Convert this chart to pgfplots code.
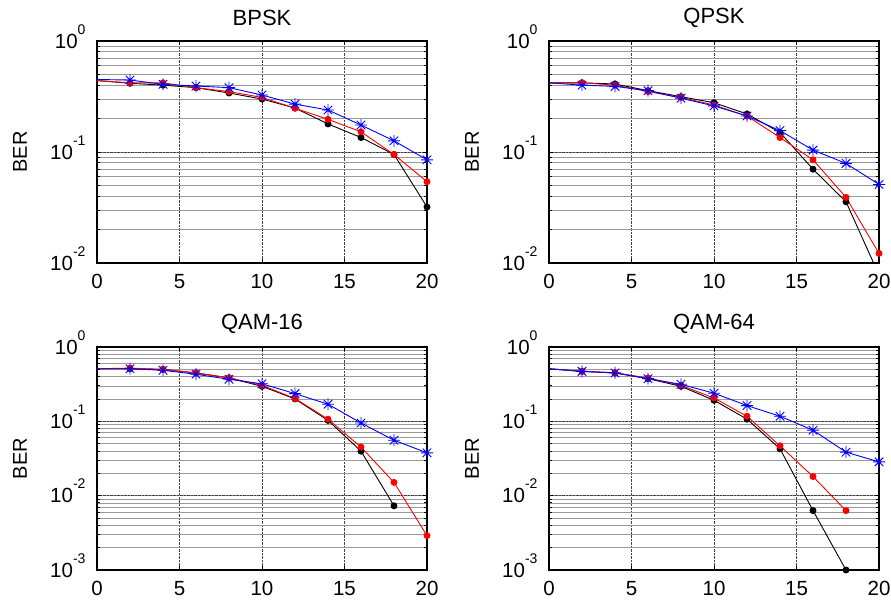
\documentclass[border=0pt]{standalone}
\usepackage{fontspec}
\setmainfont{Liberation Sans}
\usepackage{pgfplots}
\pgfplotsset{compat=1.18}

% MATLAB-like '*' marker: plus and cross together
\pgfdeclareplotmark{mstar}{%
  \pgfpathmoveto{\pgfqpoint{-\pgfplotmarksize}{0pt}}%
  \pgfpathlineto{\pgfqpoint{\pgfplotmarksize}{0pt}}%
  \pgfpathmoveto{\pgfqpoint{0pt}{-\pgfplotmarksize}}%
  \pgfpathlineto{\pgfqpoint{0pt}{\pgfplotmarksize}}%
  \pgfpathmoveto{\pgfqpoint{-0.707\pgfplotmarksize}{-0.707\pgfplotmarksize}}%
  \pgfpathlineto{\pgfqpoint{0.707\pgfplotmarksize}{0.707\pgfplotmarksize}}%
  \pgfpathmoveto{\pgfqpoint{-0.707\pgfplotmarksize}{0.707\pgfplotmarksize}}%
  \pgfpathlineto{\pgfqpoint{0.707\pgfplotmarksize}{-0.707\pgfplotmarksize}}%
  \pgfusepathqstroke}

% 10^n tick label, superscript kept out of the box height
\newcommand{\tp}[1]{10\smash{\raisebox{0.68em}{\fontsize{14}{14}\selectfont #1}}}

\pgfplotsset{
  berplot/.style={
    scale only axis, width=330pt,
    xmin=0, xmax=20, xtick={0,5,10,15,20},
    xticklabels={0,5,10,15,20},
    tick align=inside, tick pos=both,
    major tick length=4pt, minor tick length=3pt,
    axis line style={line width=1.2pt},
    every tick/.style={black, line width=0.8pt},
    ticklabel style={font=\fontsize{20.5}{20.5}\selectfont},
    xticklabel style={yshift=-8pt},
    yticklabel style={xshift=-8pt},
    xmajorgrids, ymajorgrids, yminorgrids,
    major grid style={black!75, densely dotted, line width=0.7pt},
    minor grid style={black!40, line width=0.7pt},
    title style={font=\fontsize{22}{22}\selectfont, at={(axis description cs:0.5,1)}, anchor=center, yshift=17pt},
    ylabel=BER,
    every axis y label/.style={at={(axis description cs:-0.233,0.5)}, rotate=90, anchor=center, font=\fontsize{20}{20}\selectfont},
  },
  kline/.style={black, line width=0.9pt, mark=*, mark size=3pt, mark indices={2,3,4,5,6,7,8,9,10,11}},
  rline/.style={red, line width=0.9pt, mark=*, mark size=3pt, mark indices={2,3,4,5,6,7,8,9,10,11}},
  bline/.style={blue, line width=0.9pt, mark=mstar, mark size=6pt, mark options={line width=0.9pt}, mark indices={2,3,4,5,6,7,8,9,10,11}},
}

\begin{document}
\begin{tikzpicture}
\useasboundingbox (0,0) rectangle (891pt,602pt);

% BPSK
\begin{semilogyaxis}[berplot, at={(97pt,339pt)}, anchor=south west, height=222pt,
  ymin=1e-2, ymax=1, ytick={1e-2,1e-1,1}, yticklabels={\tp{-2},\tp{-1},\tp{0}},
  title={BPSK}]
\addplot[kline] coordinates {(0,0.44) (2,0.416) (4,0.40) (6,0.38) (8,0.34) (10,0.30) (12,0.249) (14,0.179) (16,0.135) (18,0.095) (20,0.032)};
\addplot[rline] coordinates {(0,0.44) (2,0.42) (4,0.42) (6,0.38) (8,0.35) (10,0.31) (12,0.248) (14,0.197) (16,0.152) (18,0.095) (20,0.054)};
\addplot[bline] coordinates {(0,0.45) (2,0.445) (4,0.407) (6,0.393) (8,0.38) (10,0.326) (12,0.27) (14,0.239) (16,0.175) (18,0.126) (20,0.085)};
\end{semilogyaxis}

% QPSK
\begin{semilogyaxis}[berplot, at={(549pt,339pt)}, anchor=south west, height=222pt,
  ymin=1e-2, ymax=1, ytick={1e-2,1e-1,1}, yticklabels={\tp{-2},\tp{-1},\tp{0}},
  title={QPSK}]
\addplot[kline, mark indices={2,3,4,5,6,7,8,9,10}] coordinates {(0,0.42) (2,0.42) (4,0.41) (6,0.357) (8,0.315) (10,0.278) (12,0.22) (14,0.150) (16,0.070) (18,0.0356) (20,0.0078)};
\addplot[rline] coordinates {(0,0.42) (2,0.42) (4,0.40) (6,0.35) (8,0.31) (10,0.265) (12,0.211) (14,0.135) (16,0.085) (18,0.039) (20,0.0122)};
\addplot[bline] coordinates {(0,0.42) (2,0.40) (4,0.39) (6,0.357) (8,0.305) (10,0.26) (12,0.211) (14,0.156) (16,0.104) (18,0.079) (20,0.051)};
\end{semilogyaxis}

% QAM-16
\begin{semilogyaxis}[berplot, at={(97pt,32pt)}, anchor=south west, height=223pt,
  ymin=1e-3, ymax=1, ytick={1e-3,1e-2,1e-1,1}, yticklabels={\tp{-3},\tp{-2},\tp{-1},\tp{0}},
  title={QAM-16}]
\addplot[kline] coordinates {(0,0.51) (2,0.51) (4,0.50) (6,0.448) (8,0.383) (10,0.296) (12,0.20) (14,0.103) (16,0.0397) (18,0.0073)};
\addplot[rline] coordinates {(0,0.51) (2,0.52) (4,0.50) (6,0.448) (8,0.386) (10,0.305) (12,0.203) (14,0.107) (16,0.045) (18,0.0151) (20,0.0029)};
\addplot[bline] coordinates {(0,0.51) (2,0.51) (4,0.486) (6,0.43) (8,0.368) (10,0.32) (12,0.236) (14,0.170) (16,0.095) (18,0.0557) (20,0.0377)};
\end{semilogyaxis}

% QAM-64
\begin{semilogyaxis}[berplot, at={(549pt,32pt)}, anchor=south west, height=223pt,
  ymin=1e-3, ymax=1, ytick={1e-3,1e-2,1e-1,1}, yticklabels={\tp{-3},\tp{-2},\tp{-1},\tp{0}},
  title={QAM-64}]
\addplot[kline] coordinates {(0,0.51) (2,0.47) (4,0.448) (6,0.375) (8,0.296) (10,0.192) (12,0.107) (14,0.0427) (16,0.0063) (18,0.001)};
\addplot[rline] coordinates {(0,0.51) (2,0.47) (4,0.45) (6,0.383) (8,0.305) (10,0.206) (12,0.117) (14,0.0468) (16,0.0181) (18,0.0063)};
\addplot[bline] coordinates {(0,0.51) (2,0.47) (4,0.448) (6,0.375) (8,0.315) (10,0.239) (12,0.163) (14,0.117) (16,0.076) (18,0.0385) (20,0.0285)};
\end{semilogyaxis}
\end{tikzpicture}
\end{document}
